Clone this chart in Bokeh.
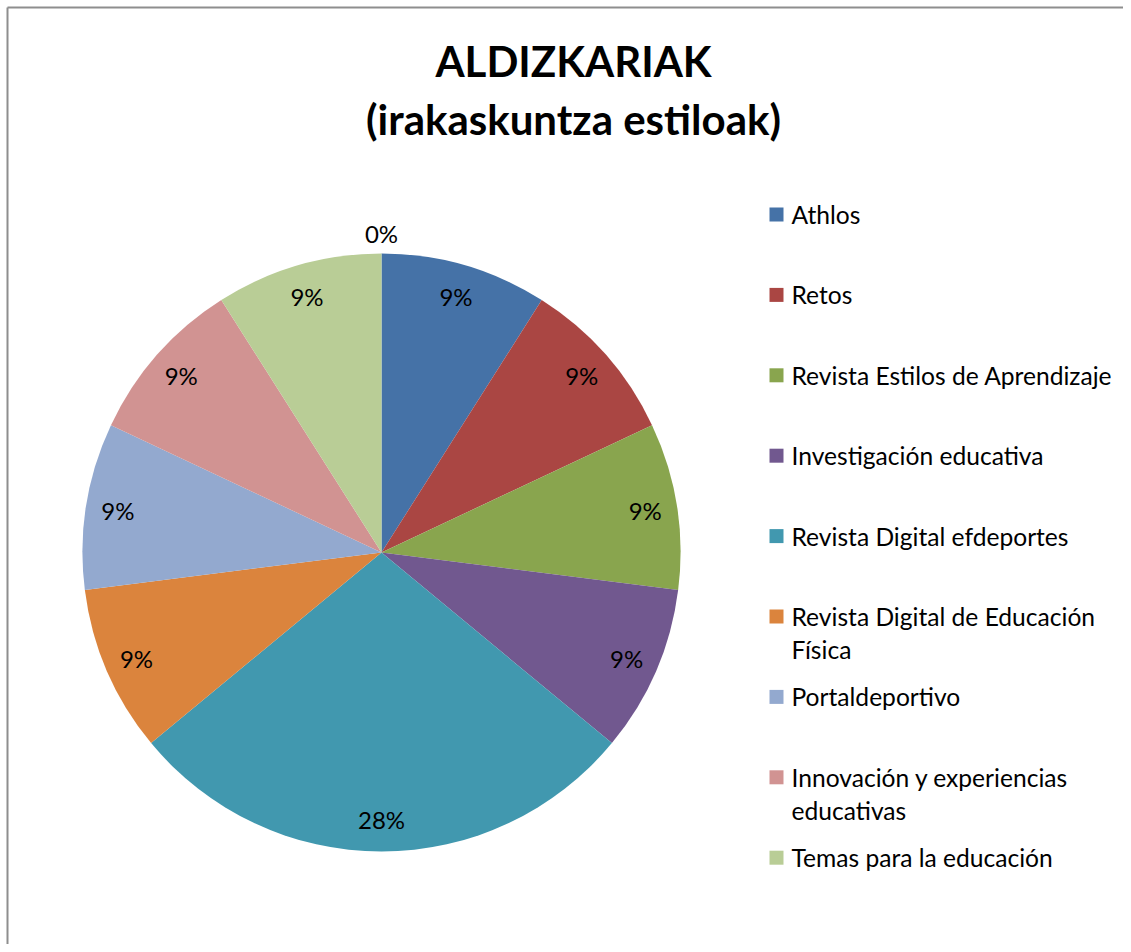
import math
from bokeh.plotting import figure
from bokeh.models import Range1d, ColumnDataSource
from bokeh.core.properties import value
from bokeh.embed import file_html
from bokeh.resources import INLINE

# ---- data ----
title_lines = ["ALDIZKARIAK", "(irakaskuntza estiloak)"]
categories = ["Athlos", "Retos", "Revista Estilos de Aprendizaje", "Investigación educativa",
              "Revista Digital efdeportes", "Revista Digital de Educación Física", "Portaldeportivo",
              "Innovación y experiencias educativas", "Temas para la educación", ""]
legend_labels = ["Athlos", "Retos", "Revista Estilos de Aprendizaje", "Investigación educativa",
                 "Revista Digital efdeportes", "Revista Digital de Educación\nFísica", "Portaldeportivo",
                 "Innovación y experiencias\neducativas", "Temas para la educación"]
values = [9, 9, 9, 9, 28, 9, 9, 9, 9, 0]
colors = ["#4572A7", "#AA4643", "#89A54E", "#71588F", "#4198AF",
          "#DB843D", "#93A9CF", "#D19392", "#B9CD96", "#A99BBD"]

# ---- layout (pixels) ----
W, H = 1123, 944
FONT = "Lato"

def py(page_y):
    return H - page_y

def px(page_x):
    return page_x

p = figure(width=W, height=H, output_backend="svg", toolbar_location=None,
           x_range=Range1d(0, W), y_range=Range1d(0, H), min_border=0)
p.axis.visible = False
p.grid.visible = False
p.outline_line_color = None
p.background_fill_color = "white"
p.border_fill_color = "white"

# chart frame (left and top edges visible)
p.line(x=[px(7), px(7)], y=[0, py(7)], line_color="#8e8e8e", line_width=2)
p.line(x=[px(7), W + 10], y=[py(7), py(7)], line_color="#8e8e8e", line_width=2)

# title
p.text(x=[px(573)] * 2, y=[py(60), py(118)], text=title_lines,
       text_font=value(FONT), text_font_style="bold", text_font_size="42px",
       text_align="center", text_baseline="middle", text_color="black")

# pie
cx, cy, r = px(381), py(552), 299
total = float(sum(values))
starts, ends, mids = [], [], []
a = math.pi / 2
for v in values:
    b = a - v / total * 2 * math.pi
    starts.append(a)
    ends.append(b)
    mids.append((a + b) / 2)
    a = b

idx = [i for i, v in enumerate(values) if v > 0]
src = ColumnDataSource(dict(
    s=[starts[i] for i in idx], e=[ends[i] for i in idx], c=[colors[i] for i in idx]))
p.wedge(x=cx, y=cy, radius=r, start_angle="s", end_angle="e", direction="clock",
        fill_color="c", line_color=None, source=src)

lx, ly, lt = [], [], []
for i, v in enumerate(values):
    rr = 267 if v > 0 else r + 20
    lx.append(cx + rr * math.cos(mids[i]))
    ly.append(cy + rr * math.sin(mids[i]))
    lt.append("%d%%" % round(v / total * 100))
p.text(x=lx, y=ly, text=lt, text_font=value(FONT), text_font_size="24px",
       text_align="center", text_baseline="middle", text_color="black")

# legend
my = []
tlx, tly, tlt = [], [], []
for i, lab in enumerate(legend_labels):
    y0 = 214 + 80.4 * i
    my.append(py(y0))
    for k, line in enumerate(lab.split("\n")):
        tlx.append(px(791))
        tly.append(py(y0 + 33 * k))
        tlt.append(line)
p.rect(x=[px(776)] * len(legend_labels), y=my, width=14, height=14,
       fill_color=colors[:len(legend_labels)], line_color=None)
p.text(x=tlx, y=tly, text=tlt, text_font=value(FONT), text_font_size="24.6px",
       text_align="left", text_baseline="middle", text_color="black")

open("out.html", "w").write(file_html(p, INLINE))
